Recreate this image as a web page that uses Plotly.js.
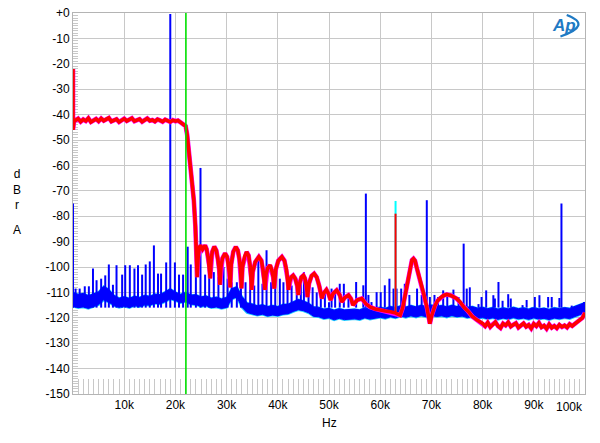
<!DOCTYPE html>
<html><head><meta charset="utf-8">
<script src="https://cdn.plot.ly/plotly-3.0.1.min.js"></script>
<style>html,body{margin:0;padding:0;background:#fff}#chart{width:600px;height:443px}</style>
</head><body><div id="chart"></div>
<script>
// ---- tick labels ----
const xTickVals = [10,20,30,40,50,60,70,80,90];
const xTickText = ['10k','20k','30k','40k','50k','60k','70k','80k','90k'];
const yTickVals = [0,-10,-20,-30,-40,-50,-60,-70,-80,-90,-100,-110,-120,-130,-140,-150];
const yTickText = ['+0','-10','-20','-30','-40','-50','-60','-70','-80','-90','-100','-110','-120','-130','-140','-150'];

// ---- blue channel noise floor (kHz, upper/lower edge dBr) ----
const bandF = [0,1,2,3,4,5,6,7,8,9,10,11,12,13,14,15,16,17,18,19,20,21,22,23,24,25,26,27,28,29,30,31,32,33,34,35,36,37,38,39,40,41,42,43,44,45,46,47,48,49,50,51,52,53,54,55,56,57,58,59,60,61,62,63,64,65,66,67,68,69,70,71,72,73,74,75,76,77,78,79,80,81,82,83,84,85,86,87,88,89,90,91,92,93,94,95,96,97,98,99,100];
const blueHi = [-110.0,-110.8,-110.4,-111.3,-110.6,-109.8,-107.6,-108.9,-111.2,-112.3,-111.7,-112.4,-111.5,-112.0,-111.2,-111.6,-110.7,-110.9,-109.8,-108.6,-109.9,-110.8,-110.0,-111.1,-110.9,-111.8,-111.4,-112.3,-111.9,-112.6,-112.0,-108.6,-107.8,-111.6,-114.2,-114.6,-115.3,-114.9,-115.6,-115.2,-115.6,-114.8,-114.7,-113.6,-112.8,-113.4,-114.3,-115.7,-115.9,-116.6,-116.3,-117.0,-116.4,-116.9,-116.8,-116.6,-116.9,-116.1,-116.7,-116.2,-115.9,-116.3,-115.6,-116.0,-115.3,-115.8,-115.2,-115.7,-115.1,-115.6,-115.0,-115.5,-115.2,-115.7,-115.1,-115.6,-115.3,-115.9,-115.6,-116.2,-115.9,-116.4,-116.0,-116.6,-116.1,-116.5,-115.9,-116.4,-116.1,-116.6,-116.0,-116.5,-116.2,-116.7,-116.1,-116.4,-116.0,-116.3,-115.6,-115.0,-114.0];
const blueLo = [-115.4,-116.0,-115.7,-116.3,-115.6,-114.8,-112.9,-113.8,-115.2,-115.9,-115.4,-116.0,-115.2,-115.6,-114.9,-115.0,-114.3,-114.5,-113.6,-112.5,-113.2,-114.0,-113.6,-114.6,-114.8,-115.5,-115.2,-116.0,-115.7,-116.3,-115.9,-112.6,-111.8,-115.8,-117.9,-118.4,-119.0,-118.6,-119.3,-118.9,-119.2,-118.6,-118.4,-117.5,-116.8,-117.2,-118.0,-119.4,-119.6,-120.3,-120.0,-120.8,-120.2,-120.7,-120.6,-120.4,-120.7,-120.0,-120.5,-120.1,-119.8,-120.2,-119.6,-120.0,-119.3,-119.8,-119.2,-119.7,-119.1,-119.6,-119.0,-119.5,-119.2,-119.7,-119.1,-119.6,-119.3,-119.9,-119.6,-120.2,-119.9,-120.4,-120.0,-120.6,-120.1,-120.5,-119.9,-120.4,-120.1,-120.6,-120.0,-120.5,-120.2,-120.7,-120.1,-120.4,-120.0,-120.3,-119.6,-119.0,-118.0];

// ---- blue channel spectral lines (kHz, dBr) ----
const spikeF  = [0,0.5,1.3,2.3,3.1,3.9,4.6,5.5,6.3,7.0,7.8,8.5,9.6,10.2,11.1,12.0,12.7,13.5,14.2,15.0,15.8,16.6,17.2,18.2,19.0,19.9,20.7,21.5,22.4,23.0,24.0,24.9,25.8,26.6,27.5,28.4,29.4,30.2,31.0,32.0,32.8,33.7,34.6,35.4,36.2,37.0,37.8,38.7,39.5,40.4,41.1,41.9,42.7,43.7,44.5,45.1,46.0,46.8,47.6,48.4,49.2,50.0,50.5,51.2,52.1,52.9,53.8,55.3,56.7,57.2,57.7,58.3,59.3,60.1,60.9,61.8,62.6,63.2,64.1,64.8,65.7,67.2,68.1,69.1,69.7,70.6,71.3,72.3,73.1,74.3,75.3,76.3,76.9,77.5,79.2,79.8,80.7,82.1,82.4,83.1,83.9,85.0,85.5,87.8,88.6,89.6,90.2,91.1,92.8,93.5,95.0,95.4,97.4,98.4,99.8];
const spikeDb = [-75,-108.5,-108.5,-107.6,-107.6,-100.6,-105.2,-104.6,-103.3,-99,-107,-99.3,-103,-99.3,-99.3,-100.6,-99.3,-103,-99,-97.8,-91.5,-102.6,-102.6,-98.2,-0.4,-98.2,-103,-103,-92,-99,-100,-61,-103,-100,-102,-104,-100,-104.6,-106,-106,-103,-106,-104.6,-107.3,-96,-106.6,-93.4,-106,-103,-104.6,-106,-106.6,-107.3,-104.6,-105.3,-102,-106,-108,-110,-112.6,-110.6,-113.9,-108.5,-110.5,-106.6,-106.6,-111,-105.9,-107.2,-71.1,-111,-113.8,-109.9,-109.9,-107.2,-104.6,-108.5,-108.5,-108.5,-106.6,-111,-108.5,-111,-73.7,-111.8,-111,-111.8,-109.2,-111.8,-108.9,-111.8,-90.8,-108.5,-108,-114.6,-111.8,-109.2,-111.1,-112.4,-105.9,-113.3,-110.7,-112.4,-115,-113,-116.5,-111.8,-111.1,-111.8,-111.8,-112.2,-75,-115.2,-116,-113.8];
const spikeBase = -116;

// ---- red channel (kHz, dBr) ----
const redF = [0,0,0.2,0.5,1,1.5,2,2.5,3,3.5,4,4.5,5,5.5,6,6.5,7,7.5,8,8.5,9,9.5,10,10.5,11,11.5,12,12.5,13,13.5,14,14.5,15,15.5,16,16.5,17,17.5,18,18.5,19,19.5,20,20.5,21,21.5,
  22.0,22.3,22.6,23.0,23.3,23.6,23.9,24.1,24.25,
  24.45,24.65,24.9,25.3,25.8,26.1,26.4,26.65,26.8,
  27.0,27.2,27.6,28.0,28.3,28.55,28.7,
  28.9,29.2,29.7,30.1,30.4,30.6,30.7,
  30.9,31.3,31.8,32.2,32.5,32.75,32.9,
  33.1,33.5,33.9,34.3,34.6,34.8,34.9,
  35.1,35.6,36.3,36.8,37.1,37.35,37.5,
  37.7,38.0,38.5,38.8,39.1,39.3,
  39.6,40.1,40.8,41.3,41.7,41.95,42.1,
  42.3,42.6,43.0,43.4,43.8,44.0,
  44.2,44.6,45.0,45.3,45.6,45.8,
  46.1,46.6,47.1,47.6,48.1,48.4,48.6,
  48.9,49.5,49.9,50.3,
  50.8,51.5,52.1,52.5,
  53.1,53.8,54.3,54.7,
  55.5,56.4,57.2,58.0,59.0,60.0,61.0,62.0,62.8,63.9,
  64.4,64.8,65.3,65.9,66.2,66.5,66.8,67.1,67.8,68.5,69.1,69.5,69.7,70.0,70.4,70.7,71.2,71.7,72.4,73.0,73.8,74.9,75.6,76.4,77.2,78.0,79.0,79.5,
  80,80.5,81,81.5,82,82.5,83,83.5,84,84.5,85,85.5,86,86.5,87,87.5,88,88.5,89,89.5,90,90.5,91,91.5,92,92.5,93,93.5,94,94.5,95,95.5,96,96.5,97,97.5,98,98.5,99,99.5,100];
const redDb = [-22,-46,-42.6,-42.3,-41.6,-42.8,-41.9,-42.5,-41.4,-42.9,-42.1,-41.7,-42.6,-41.5,-42.4,-42.0,-41.3,-42.7,-42.2,-41.8,-42.9,-42.1,-41.6,-42.5,-42.0,-41.4,-42.6,-42.2,-41.8,-42.8,-42.0,-41.5,-42.4,-42.1,-42.7,-41.9,-42.3,-42.8,-42.0,-42.5,-42.9,-42.2,-42.6,-42.3,-42.9,-43.5,
  -44.5,-48,-54,-60,-66,-73.7,-84,-93,-104,
  -96,-92.5,-91.5,-93,-91.5,-93,-96.5,-100,-104.5,
  -97,-94,-92,-93.5,-97,-101,-107,
  -100,-96.5,-94.6,-96,-99.5,-103,-108,
  -99,-94,-92.1,-93.5,-97,-102,-108.4,
  -100,-96,-94.1,-95.5,-99.5,-104,-109,
  -102,-98,-96,-97.5,-101,-105,-109,
  -103,-100.5,-99.3,-101,-104,-108.5,
  -101,-97.5,-96,-97.5,-101,-105,-109,
  -106,-104,-103.3,-104.5,-107.5,-111,
  -107,-104,-103.3,-104.5,-107.5,-111.8,
  -106.5,-103.5,-102.6,-104,-107.5,-110,-112.4,
  -110.5,-109,-110.5,-113,
  -110.5,-109.2,-111,-113.8,
  -112,-111.1,-112.5,-115,
  -113,-112.4,-114.5,-115.7,-116.5,-117,-117.3,-117.6,-118,-119,
  -116,-111.8,-106,-99.5,-97.3,-96.7,-97.5,-100,-105,-110.5,-115.7,-120,-122.3,-119.5,-116.5,-115.2,-113.3,-112.2,-111.2,-110.8,-111.2,-112.4,-113.8,-116,-117.5,-119.5,-121,-121.6,
  -122.2,-123.3,-121.9,-123.6,-122.5,-121.7,-123.2,-124.0,-122.3,-123.0,-121.8,-123.4,-122.7,-122.1,-123.8,-122.9,-122.2,-123.5,-122.8,-124.2,-122.4,-123.3,-122.0,-123.7,-123.1,-124.3,-122.6,-123.9,-123.2,-124.1,-122.8,-123.6,-123.0,-123.8,-122.5,-123.2,-122.4,-121.5,-121,-120,-118];
const redSpikeF = [63.0];
const redSpikeDb = [-79];
const cyanSpikeF = [63.0];
const cyanSpikeDb = [-74];

// ---- 22.05 kHz marker ----
const markerX = [22.05, 22.05];
const markerY = [-150, 0];

function spikes(fs, dbs, base){
  const x=[], y=[];
  fs.forEach((f,i)=>{ x.push(f,f,null); y.push(base,dbs[i],null); });
  return {x, y};
}
const bs = spikes(spikeF, spikeDb, spikeBase);
const rs = spikes(redSpikeF, redSpikeDb, -118);
const cs = spikes(cyanSpikeF, cyanSpikeDb, -118);

const traces = [
  {x: bandF, y: blueLo, mode:'lines', line:{color:'#22ccff', width:2.6}, hoverinfo:'skip', showlegend:false},
  {x: bandF, y: blueHi, mode:'lines', line:{color:'#22ccff', width:2}, hoverinfo:'skip', showlegend:false},
  {x: bs.x, y: bs.y, mode:'lines', line:{color:'#0000ff', width:2}, hoverinfo:'skip', showlegend:false},
  {x: bandF, y: blueLo, mode:'lines', line:{color:'#0000ff', width:1}, hoverinfo:'skip', showlegend:false},
  {x: bandF, y: blueHi, mode:'lines', fill:'tonexty', fillcolor:'#0000ff', line:{color:'#0000ff', width:1}, hoverinfo:'skip', showlegend:false},
  {x: cs.x, y: cs.y, mode:'lines', line:{color:'#00ffff', width:2}, hoverinfo:'skip', showlegend:false},
  {x: redF, y: redDb, mode:'lines', line:{color:'#ff00ff', width:4.6}, hoverinfo:'skip', showlegend:false},
  {x: redF, y: redDb, mode:'lines', line:{color:'#ff0000', width:3.6}, hoverinfo:'skip', showlegend:false},
  {x: rs.x, y: rs.y, mode:'lines', line:{color:'#ff0000', width:2}, hoverinfo:'skip', showlegend:false},
  {x: markerX, y: markerY, mode:'lines', line:{color:'#00e000', width:1.6}, hoverinfo:'skip', showlegend:false}
];

const grid = '#c8c8c8';
const layout = {
  width:600, height:443,
  margin:{l:73, r:15, t:13, b:49},
  paper_bgcolor:'#fff', plot_bgcolor:'#fff',
  font:{family:'Liberation Sans, Arial, sans-serif', size:12, color:'#000'},
  showlegend:false,
  xaxis:{range:[0,100], tickvals:xTickVals, ticktext:xTickText, showgrid:true, gridcolor:grid, gridwidth:1,
         zeroline:false, showline:true, linecolor:'#b4b4b4', linewidth:1, mirror:true,
         ticks:'inside', ticklen:15, tickcolor:grid, tickwidth:1,
         minor:{dtick:1, ticks:'inside', ticklen:15, tickcolor:grid, tickwidth:1, showgrid:false},
         tickfont:{size:12, color:'#000'}, layer:'below traces', fixedrange:true},
  yaxis:{range:[-150,0], tickvals:yTickVals, ticktext:yTickText, showgrid:true, gridcolor:grid, gridwidth:1,
         zeroline:false, showline:true, linecolor:'#b4b4b4', linewidth:1, mirror:true,
         ticks:'inside', ticklen:5, tickcolor:grid, tickwidth:1,
         minor:{dtick:1, ticks:'inside', ticklen:5, tickcolor:grid, tickwidth:1, showgrid:false},
         tickfont:{size:12, color:'#000'}, layer:'below traces', fixedrange:true},
  annotations:[
    {text:'100k', x:100, xref:'x', y:0, yref:'paper', xanchor:'right', yanchor:'top', yshift:-4, showarrow:false, font:{size:12, color:'#000'}},
    {text:'Hz', x:0.5, xref:'paper', y:-0.076, yref:'paper', xanchor:'center', yanchor:'middle', showarrow:false, font:{size:12, color:'#000'}},
    {text:'d<br>B<br>r', x:(17-73)/512, xref:'paper', y:(394-190)/381, yref:'paper', xanchor:'center', yanchor:'middle', showarrow:false, font:{size:12, color:'#000'}},
    {text:'A', x:(17-73)/512, xref:'paper', y:(394-230)/381, yref:'paper', xanchor:'center', yanchor:'middle', showarrow:false, font:{size:12, color:'#000'}},
    {text:'<b><i>Ap</i></b>', x:(564-73)/512, xref:'paper', y:(394-25)/381, yref:'paper', xanchor:'center', yanchor:'middle', showarrow:false, font:{size:17, color:'#1f7ac4', family:'Liberation Sans, Arial, sans-serif'}}
  ],
  shapes:[
    {type:'path', xref:'paper', yref:'paper', path:'M 0.9643 0.9948 Q 1.0157 0.9685 0.952 0.9383', line:{color:'#1f7ac4', width:2.2}}
  ]
};
Plotly.newPlot('chart', traces, layout, {displayModeBar:false, staticPlot:true});
</script>
</body></html>
